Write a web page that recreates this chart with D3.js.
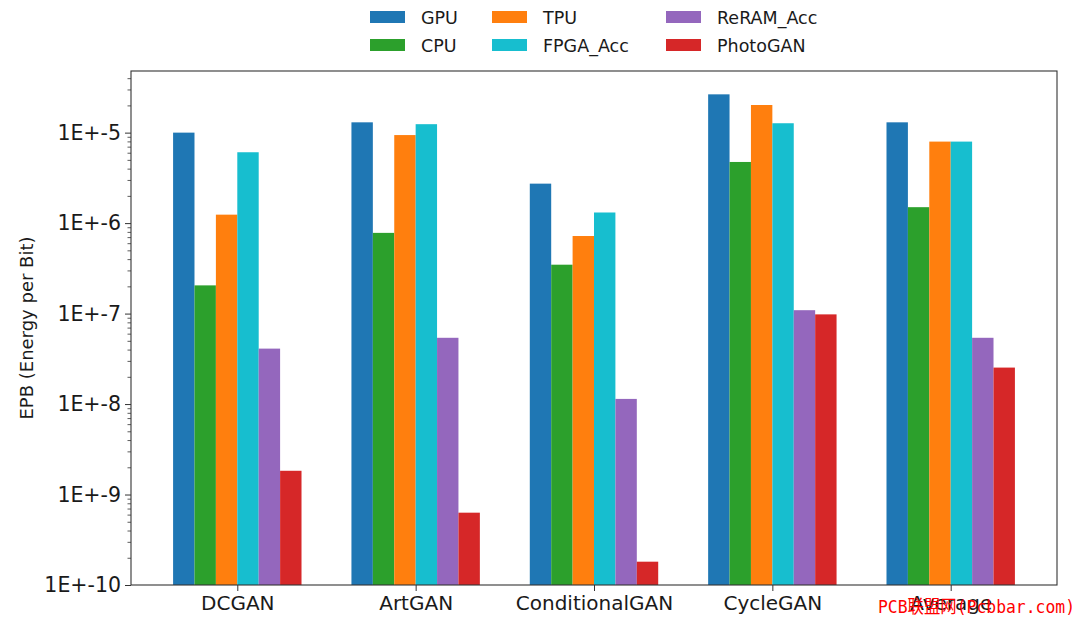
<!DOCTYPE html>
<html><head><meta charset="utf-8">
<script src="https://cdn.jsdelivr.net/npm/d3@7"></script>
<style>body{margin:0;background:#fff;}svg{display:block;font-family:"DejaVu Sans",sans-serif;}</style>
</head><body><svg id="c" width="1080" height="622"></svg>
<script>
const categories = ["DCGAN","ArtGAN","ConditionalGAN","CycleGAN","Average"];
const seriesNames = ["GPU","CPU","TPU","FPGA_Acc","ReRAM_Acc","PhotoGAN"];
const seriesColors = ["#1f77b4","#2ca02c","#ff7f0e","#17becf","#9467bd","#d62728"];
const GPU = [1.0e-5, 1.30e-5, 2.73e-6, 2.65e-5, 1.30e-5];
const CPU = [2.05e-7, 7.8e-7, 3.47e-7, 4.74e-6, 1.50e-6];
const TPU = [1.24e-6, 9.4e-6, 7.2e-7, 2.02e-5, 7.96e-6];
const FPGA_Acc = [6.07e-6, 1.24e-5, 1.31e-6, 1.27e-5, 7.96e-6];
const ReRAM_Acc = [4.1e-8, 5.4e-8, 1.14e-8, 1.09e-7, 5.4e-8];
const PhotoGAN = [1.83e-9, 6.3e-10, 1.81e-10, 9.8e-8, 2.53e-8];
const yTickValues = [1e-10,1e-9,1e-8,1e-7,1e-6,1e-5];
const yTickLabels = ["1E+-10","1E+-9","1E+-8","1E+-7","1E+-6","1E+-5"];
const yLabel = "EPB (Energy per Bit)";
const watermark = "PCB联盟网(Pcbbar.com)";

const seriesData = [GPU, CPU, TPU, FPGA_Acc, ReRAM_Acc, PhotoGAN];
const svg = d3.select("#c");
const L = 131, R = 1057, T = 71, B = 585;
const barW = 0.12;
const x = d3.scaleLinear().domain([-0.596, 4.596]).range([L, R]);
const y = d3.scaleLog().domain([1e-10, 4.8e-5]).range([B, T]);

// bars
seriesData.forEach((vals, j) => {
  svg.append("g").selectAll("rect").data(vals).join("rect")
    .attr("x", (d,i) => x(i + (j - 2.5) * barW - barW/2))
    .attr("width", (d,i) => x(barW) - x(0))
    .attr("y", d => y(d))
    .attr("height", d => y(1e-10) - y(d))
    .attr("fill", seriesColors[j]);
});

// y axis
const minor = [];
for (let e = -10; e <= -5; e++) for (let k = 2; k <= 9; k++) { const v = k * Math.pow(10, e); if (v < 4.8e-5) minor.push(v); }
const yAxisMinor = d3.axisLeft(y).tickValues(minor).tickSize(3.5).tickFormat("");
svg.append("g").attr("transform", `translate(${L},0)`).call(yAxisMinor)
  .call(g => g.select(".domain").remove())
  .call(g => g.selectAll("line").attr("stroke", "#333").attr("stroke-width", 0.8));
const yAxis = d3.axisLeft(y).tickValues(yTickValues).tickSize(6).tickPadding(4)
  .tickFormat((d,i) => yTickLabels[i]);
svg.append("g").attr("transform", `translate(${L},0)`).call(yAxis)
  .call(g => g.select(".domain").remove())
  .call(g => g.selectAll("line").attr("stroke", "#333").attr("stroke-width", 1))
  .call(g => g.selectAll("text").attr("font-size", 20.5).attr("fill", "#1a1a1a").attr("font-family", "DejaVu Sans"));

// x axis
const xAxis = d3.axisBottom(x).tickValues(d3.range(categories.length)).tickSize(6).tickPadding(5)
  .tickFormat((d,i) => categories[i]);
svg.append("g").attr("transform", `translate(0,${B})`).call(xAxis)
  .call(g => g.select(".domain").remove())
  .call(g => g.selectAll("line").attr("stroke", "#333").attr("stroke-width", 1))
  .call(g => g.selectAll("text").attr("font-size", 20).attr("fill", "#1a1a1a").attr("font-family", "DejaVu Sans"));

// frame
svg.append("rect").attr("x", L).attr("y", T).attr("width", R - L).attr("height", B - T)
  .attr("fill", "none").attr("stroke", "#333").attr("stroke-width", 1.1);

// y label
svg.append("text").attr("transform", `translate(33,${(T+B)/2}) rotate(-90)`)
  .attr("text-anchor", "middle").attr("font-size", 18).attr("fill", "#1a1a1a").text(yLabel);

// legend (column-major, 3 columns)
const colX = [370, 492, 666];
const rowY = [17, 45];
seriesNames.forEach((name, j) => {
  const c = Math.floor(j / 2), r = j % 2;
  svg.append("rect").attr("x", colX[c]).attr("y", rowY[r] - 6).attr("width", 35).attr("height", 12)
    .attr("fill", seriesColors[j]);
  svg.append("text").attr("x", colX[c] + 51).attr("y", rowY[r] + 6.5).attr("font-size", 17.5)
    .attr("fill", "#1a1a1a").text(name);
});

// watermark overlay (as in the reference image)
svg.append("text").attr("x", 878).attr("y", 613)
  .attr("font-family", "'DejaVu Sans Mono','Noto Sans CJK SC',monospace")
  .attr("font-size", 18).attr("textLength", 197).attr("lengthAdjust", "spacingAndGlyphs")
  .attr("fill", "#ff0000").text(watermark);
</script></body></html>
